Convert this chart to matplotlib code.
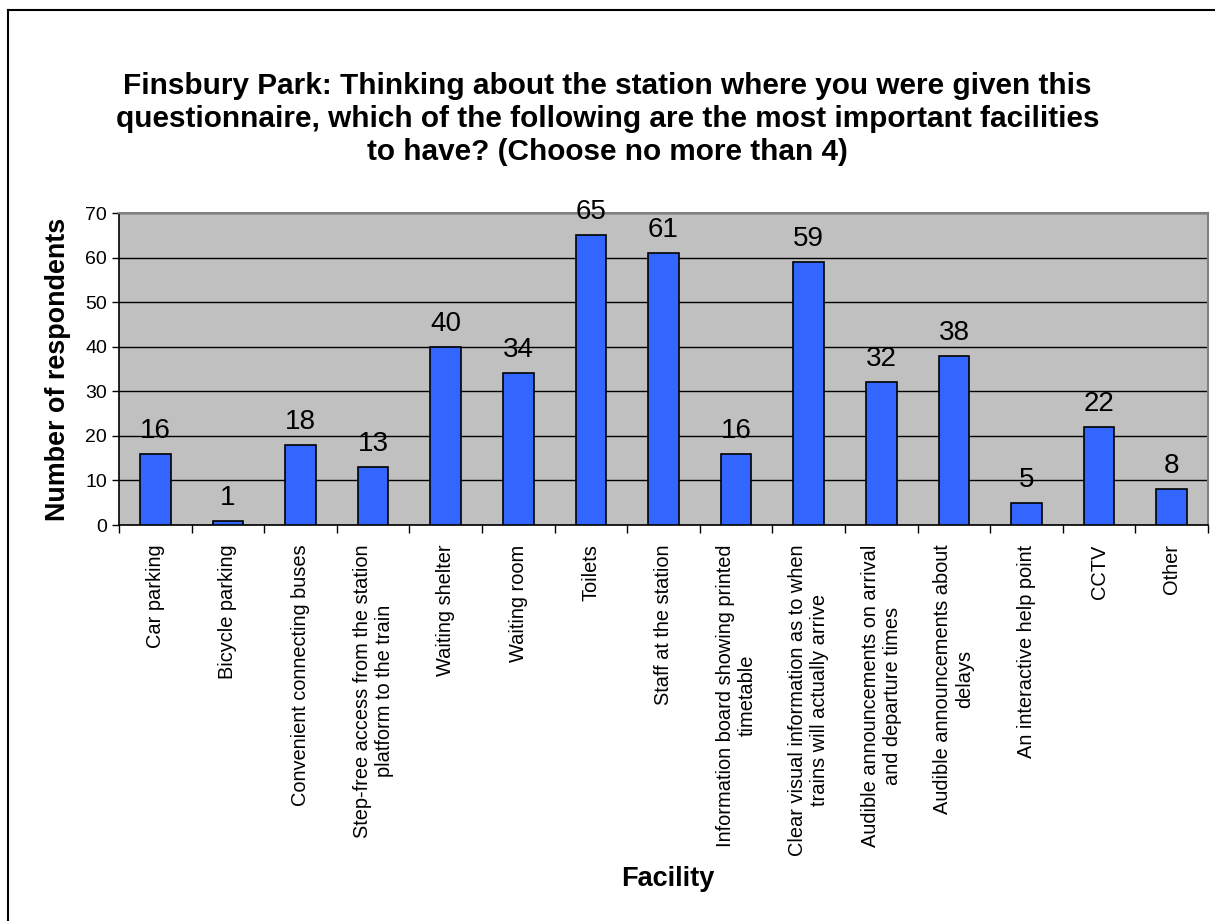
import matplotlib
matplotlib.use('Agg')
import matplotlib.pyplot as plt
from matplotlib.lines import Line2D

plt.rcParams['font.family'] = ['Liberation Sans', 'DejaVu Sans']

facilities = [
    'Car parking',
    'Bicycle parking',
    'Convenient connecting buses',
    'Step-free access from the station\nplatform to the train',
    'Waiting shelter',
    'Waiting room',
    'Toilets',
    'Staff at the station',
    'Information board showing printed\ntimetable',
    'Clear visual information as to when\ntrains will actually arrive',
    'Audible announcements on arrival\nand departure times',
    'Audible announcements about\ndelays',
    'An interactive help point',
    'CCTV',
    'Other',
]
respondents = [16, 1, 18, 13, 40, 34, 65, 61, 16, 59, 32, 38, 5, 22, 8]
y_ticks = [0, 10, 20, 30, 40, 50, 60, 70]

W, H = 1215, 921
fig = plt.figure(figsize=(W / 100, H / 100), dpi=100)

# plot area in pixel terms
left, right, top, bottom = 119, 1208, 213, 525
ax = fig.add_axes([left / W, 1 - bottom / H, (right - left) / W, (bottom - top) / H])
ax.set_facecolor('#C0C0C0')

x = list(range(len(facilities)))
ax.bar(x, respondents, width=0.42, color='#3366FF', edgecolor='black', linewidth=1.2, zorder=3)
for xi, v in zip(x, respondents):
    ax.annotate(str(v), (xi, v), xytext=(0, 11.5), textcoords='offset points',
                ha='center', va='baseline', fontsize=20, zorder=4, annotation_clip=False)

ax.set_xlim(-0.5, len(facilities) - 0.5)
ax.set_ylim(0, 70)
ax.set_yticks(y_ticks)
ax.yaxis.grid(True, color='black', linewidth=1.0, zorder=1)
ax.set_axisbelow(True)
ax.tick_params(axis='y', labelsize=14, length=5, width=1, direction='out')

# category ticks sit between the bars, labels sit under each bar
ax.set_xticks([i + 0.5 for i in range(-1, len(facilities))])
ax.set_xticklabels([])
ax.tick_params(axis='x', which='major', length=6, width=1, direction='out')
ax.set_xticks(x, minor=True)
ax.set_xticklabels(facilities, minor=True, rotation=90, fontsize=14.4,
                   ha='center', va='top', multialignment='center')
ax.tick_params(axis='x', which='minor', length=0, pad=14)

for s in ['top', 'right']:
    ax.spines[s].set_color('#808080')
    ax.spines[s].set_linewidth(1.5)
for s in ['left', 'bottom']:
    ax.spines[s].set_color('black')
    ax.spines[s].set_linewidth(1.2)

ax.set_ylabel('Number of respondents', fontsize=19.4, fontweight='bold', labelpad=10)
fig.text(668 / W, 1 - 879 / H, 'Facility', ha='center', va='center',
         fontsize=19.5, fontweight='bold')

fig.text(0.5, 1 - 119 / H,
         'Finsbury Park: Thinking about the station where you were given this\n'
         'questionnaire, which of the following are the most important facilities\n'
         'to have? (Choose no more than 4)',
         ha='center', va='center', fontsize=21.4, fontweight='bold', linespacing=1.22)

# outer chart border (top and left edges)
fig.add_artist(Line2D([8 / W, 1], [1 - 10 / H, 1 - 10 / H], color='black', linewidth=1.5))
fig.add_artist(Line2D([8 / W, 8 / W], [0, 1 - 10 / H], color='black', linewidth=1.5))

fig.savefig('out.png', dpi=100)
